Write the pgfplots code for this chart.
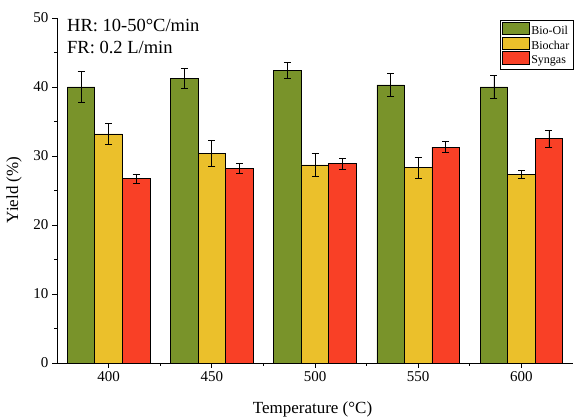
\documentclass[border=0pt]{standalone}
\usepackage{fontspec}
\setmainfont{Liberation Serif}
\usepackage{pgfplots}
\pgfplotsset{compat=1.18}

\definecolor{oilgreen}{HTML}{79932A}
\definecolor{charyellow}{HTML}{EBC02B}
\definecolor{gasred}{HTML}{F94026}

\pgfplotsset{yieldbar/.style={draw=black, line width=0.7pt,
  error bars/y dir=both, error bars/y explicit,
  error bars/error bar style={black, line width=0.7pt},
  error bars/error mark options={rotate=90, mark size=3.5pt, black, line width=0.7pt}}}

\begin{document}
\begin{tikzpicture}[x=1pt,y=1pt]
\useasboundingbox (0,0) rectangle (574,419);
\begin{axis}[
  at={(57pt,56pt)}, anchor=south west,
  scale only axis, width=516pt, height=345pt,
  xmin=375, xmax=625, ymin=0, ymax=50,
  axis x line=bottom, axis y line=left,
  axis line style={-, line width=0.9pt, black},
  xtick={400,450,500,550,600}, ytick={0,10,20,30,40,50},
  minor x tick num=1, minor y tick num=1,
  tick align=outside,
  major tick length=5pt, minor tick length=3pt,
  tick style={black, line width=0.9pt},
  ticklabel style={font=\fontsize{15}{15}\selectfont},
  /pgf/number format/assume math mode=true,
  ybar, bar width=13.33,
  legend style={at={(1,0.994)}, anchor=north east, draw=black,
    font=\fontsize{12}{13}\selectfont, inner sep=1.5pt,
    row sep=-1.5pt, cells={anchor=west}},
  legend image code/.code={\draw[#1] (0pt,-3.5pt) rectangle (27pt,9pt);},
]
\addplot[yieldbar, fill=oilgreen, bar shift=-13.33] coordinates {
  (400,40.0) +- (0,2.2)
  (450,41.3) +- (0,1.45)
  (500,42.4) +- (0,1.1)
  (550,40.3) +- (0,1.65)
  (600,40.0) +- (0,1.7)
};
\addlegendentry{Bio-Oil}
\addplot[yieldbar, fill=charyellow, bar shift=0] coordinates {
  (400,33.2) +- (0,1.5)
  (450,30.4) +- (0,1.9)
  (500,28.7) +- (0,1.7)
  (550,28.3) +- (0,1.55)
  (600,27.3) +- (0,0.6)
};
\addlegendentry{Biochar}
\addplot[yieldbar, fill=gasred, bar shift=13.33] coordinates {
  (400,26.7) +- (0,0.7)
  (450,28.2) +- (0,0.7)
  (500,28.9) +- (0,0.8)
  (550,31.3) +- (0,0.8)
  (600,32.5) +- (0,1.25)
};
\addlegendentry{Syngas}
\end{axis}
\node[anchor=base west, font=\fontsize{18.5}{18.5}\selectfont, inner sep=0pt] at (67,387) {HR: 10-50°C/min};
\node[anchor=base west, font=\fontsize{18.5}{18.5}\selectfont, inner sep=0pt] at (67,365) {FR: 0.2 L/min};
\node[anchor=base, font=\fontsize{17}{17}\selectfont, inner sep=0pt] at (312.5,5) {Temperature (°C)};
\node[rotate=90, anchor=center, font=\fontsize{17}{17}\selectfont, inner sep=0pt] at (14,229) {Yield (\%)};
\end{tikzpicture}
\end{document}
